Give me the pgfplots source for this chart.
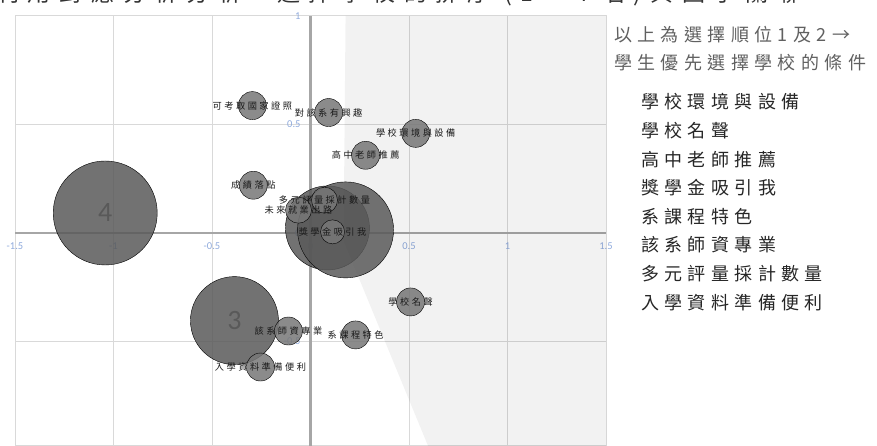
\documentclass[border=0pt]{standalone}
\usepackage{pgfplots}
\pgfplotsset{compat=1.18}
\usepackage{pgfplotstable}
\usepackage{fontspec}
\setmainfont{Carlito}
\newfontfamily\cjk[LetterSpace=27]{Noto Sans CJK TC}
\newfontfamily\cjkwide[LetterSpace=30]{Noto Sans CJK TC}
\newfontfamily\cjktitle[LetterSpace=38]{Noto Sans CJK TC}

\definecolor{gridgray}{HTML}{D9D9D9}
\definecolor{axisgray}{HTML}{A6A6A6}
\definecolor{ticblue}{HTML}{8FAADC}
\definecolor{bigbub}{HTML}{595959}
\definecolor{smallbub}{HTML}{777777}
\definecolor{notegray}{HTML}{606060}

% factor bubbles: x, y, radius (pt), label
\pgfplotstableread{
x y r lab
-0.295 0.587 14 可考取國家證照
0.092 0.555 14 對該系有興趣
0.534 0.459 14 學校環境與設備
0.280 0.358 14 高中老師推薦
-0.290 0.220 14 成績落點
-0.061 0.105 13 未來就業出路
0.071 0.151 13 多元評量採計數量
0.112 0.005 12 獎學金吸引我
0.508 -0.318 14 學校名聲
-0.112 -0.452 14 該系師資專業
0.229 -0.470 14 系課程特色
-0.254 -0.618 14 入學資料準備便利
}\factors

% rank bubbles (order of choice)
\pgfplotstableread{
x y r lab
-1.042 0.092 52 4
-0.386 -0.404 44 3
}\ranksout
\pgfplotstableread{
x y r lab
0.086 0.023 42 1
0.178 0.014 48 2
}\ranksin

\pgfplotsset{
  bubble/.style={only marks, mark=*, scatter,
    point meta=explicit symbolic,
    visualization depends on={\thisrow{r}\as\rad},
    scatter/@pre marker code/.code={\scope[mark size=\rad,
      draw=none, fill=#1, fill opacity=0.85]},
    scatter/@post marker code/.code={\endscope}},
  bubblelabel/.style={draw=none, mark=none, point meta=explicit symbolic,
    nodes near coords, nodes near coords align=center,
    every node near coord/.append style={font=#1, inner sep=0pt}},
}

\begin{document}
\begin{tikzpicture}[x=1pt,y=1pt]

% title, mostly cut off by the page edge
\node[anchor=base west, inner sep=0pt, text=black!80,
      font=\cjktitle\fontsize{23}{23}\selectfont] at (-4pt,444pt)
  {利用對應分析分析 - 選擇學校的排序 (1 ~ 4 名)與因子關聯};

\begin{axis}[
  at={(15pt,0pt)}, anchor=south west,
  scale only axis, width=591pt, height=430pt,
  xmin=-1.5, xmax=1.5, ymin=-0.982, ymax=1,
  axis line style={gridgray, line width=1pt},
  xtick={-1.5,-1,-0.5,0.5,1,1.5},
  ytick={-1,-0.5,0.5,1},
  xticklabels={-1.5,-1,-0.5,0.5,1,1.5},
  yticklabels={-1,-0.5,0.5,1},
  extra x ticks={0}, extra y ticks={0},
  extra x tick labels={0}, extra y tick labels={0},
  extra tick style={grid style={axisgray, line width=2.5pt}},
  major tick length=0pt,
  grid=major,
  grid style={gridgray, line width=1pt},
  ticklabel style={font=\fontsize{10.5}{10.5}\selectfont, text=ticblue},
  xticklabel style={yshift=207pt},
  yticklabel style={xshift=289pt},
  /pgf/number format/assume math mode=true,
  clip=true,
]
% light area on the right
\addplot[draw=none, fill=black, fill opacity=0.05]
  coordinates {(0.178,1) (0.168,-0.037) (0.605,-1.0) (1.5,-1.0) (1.5,1) (0.178,1)};

\addplot[bubble=bigbub] table[meta=lab] {\ranksin};
\addplot[bubble=bigbub] table[meta=lab] {\ranksout};
\addplot[bubble=smallbub] table[meta=lab] {\factors};

\addplot[bubblelabel={\fontsize{28}{28}\selectfont\color{black!65}}]
  table[meta=lab] {\ranksout};
\addplot[bubblelabel={\cjk\fontsize{9.2}{9.2}\selectfont\color{black!90}}]
  table[meta=lab] {\factors};
\end{axis}

% note on the right
\begin{scope}[every node/.style={anchor=west, inner sep=0pt}]
\node[text=notegray, font=\cjkwide\fontsize{18}{18}\selectfont] at (614,411) {以上為選擇順位1及2→};
\node[text=notegray, font=\cjkwide\fontsize{18}{18}\selectfont] at (614,383) {學生優先選擇學校的條件};
\foreach \t [count=\i] in {學校環境與設備,學校名聲,高中老師推薦,獎學金吸引我,系課程特色,該系師資專業,多元評量採計數量,入學資料準備便利}
  \node[text=black!85, font=\cjkwide\fontsize{18}{18}\selectfont] at (641,{446-102-(\i-1)*28.6}) {\t};
\end{scope}

\pgfresetboundingbox
\path[use as bounding box] (0,0) rectangle (877,446);
\end{tikzpicture}
\end{document}
